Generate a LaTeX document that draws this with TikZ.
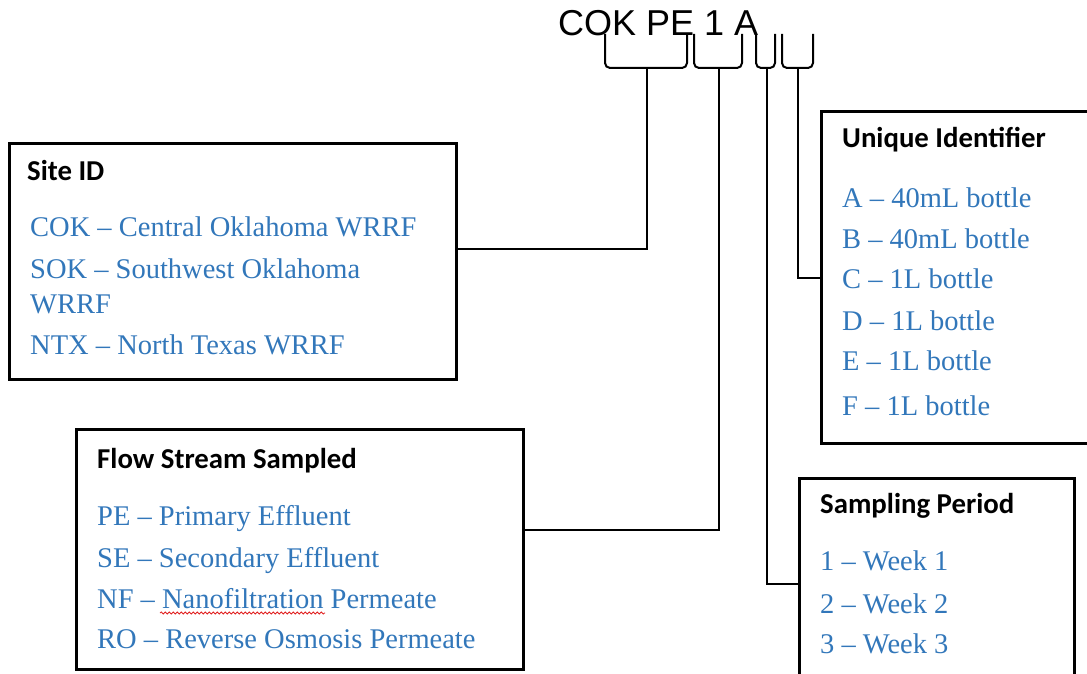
\documentclass[tikz,border=0pt]{standalone}
\usepackage{fontspec}
\setmainfont{Liberation Serif}
\newfontfamily\headfont{Carlito}
\newfontfamily\codefont{Liberation Sans}
\usepackage{xcolor}
\usetikzlibrary{positioning,calc,decorations.pathmorphing}
\definecolor{keyblue}{HTML}{3277BA}
\definecolor{spellred}{HTML}{E02020}
\tikzset{
  box/.style={draw=black,line width=3pt,anchor=north west,inner sep=0pt},
  head/.style={anchor=base west,inner sep=0pt,font=\headfont\bfseries\fontsize{28.8}{34}\selectfont},
  entry/.style={anchor=base west,inner sep=0pt,text=keyblue,font=\fontsize{28.5}{34}\selectfont},
  link/.style={line width=2pt},
  brace/.style={line width=2pt,rounded corners=5pt}
}

\begin{document}
\begin{tikzpicture}[x=1pt,y=-1pt]
  \useasboundingbox (0,0) rectangle (1087,674);
  % sample code
  \node[anchor=base west,inner sep=0pt,font=\codefont\fontsize{36}{40}\selectfont] (code) at (558,36) {COK PE 1 A};
  \foreach \l/\m/\r [count=\k] in {605/647/687, 694/719/742, 756/767/775, 782/798/813} {
    \draw[brace] (\l,34) -- (\l,68) -- (\r,68) -- (\r,34);
    \coordinate (b\k) at (\m,68);
  }
  % boxes
  \node[box,minimum width=447pt,minimum height=236pt] (site) at (8,142) {};
  \node[box,minimum width=447pt,minimum height=240pt] (flow) at (75,428) {};
  \node[box,minimum width=285pt,minimum height=332pt] (uniq) at (820,110) {};
  \node[box,minimum width=275pt,minimum height=210pt] (samp) at (798,477) {};
  % headings
  \node[head] (siteH) at ([xshift=19pt,yshift=-38pt]site.north west) {Site ID};
  \node[head] (flowH) at ([xshift=22pt,yshift=-40pt]flow.north west) {Flow Stream Sampled};
  \node[head] (uniqH) at ([xshift=22pt,yshift=-38pt]uniq.north west) {Unique Identifier};
  \node[head] (sampH) at ([xshift=22pt,yshift=-36pt]samp.north west) {Sampling Period};
  % entries
  \foreach \dy/\txt [count=\i] in {56/COK – Central Oklahoma WRRF, 98/SOK – Southwest Oklahoma, 133/WRRF, 174/NTX – North Texas WRRF}
    \node[entry] (site-\i) at ([xshift=3pt,yshift=-\dy pt]siteH.base west) {\txt};
  \foreach \dy/\txt [count=\i] in {57/PE – Primary Effluent, 99/SE – Secondary Effluent, 140/NF – Nanofiltration Permeate, 180/RO – Reverse Osmosis Permeate}
    \node[entry] (flow-\i) at ([yshift=-\dy pt]flowH.base west) {\txt};
  \foreach \dy/\txt [count=\i] in {59/A – 40mL bottle, 100/B – 40mL bottle, 140/C – 1L bottle, 182/D – 1L bottle, 222/E – 1L bottle, 267/F – 1L bottle}
    \node[entry] (uniq-\i) at ([yshift=-\dy pt]uniqH.base west) {\txt};
  \foreach \dy/\txt [count=\i] in {57/1 – Week 1, 100/2 – Week 2, 140/3 – Week 3}
    \node[entry] (samp-\i) at ([yshift=-\dy pt]sampH.base west) {\txt};
  % spell check mark
  \draw[spellred,line width=0.8pt,decorate,decoration={snake,amplitude=1pt,segment length=4pt}] (160,613) -- (325,613);
  % connectors
  \draw[link] (b1) |- ([yshift=13pt]site.east);
  \draw[link] (b2) |- ([yshift=20pt]flow.east);
  \draw[link] (b3) |- (samp.west);
  \draw[link] (b4) |- (uniq.west);
\end{tikzpicture}
\end{document}
